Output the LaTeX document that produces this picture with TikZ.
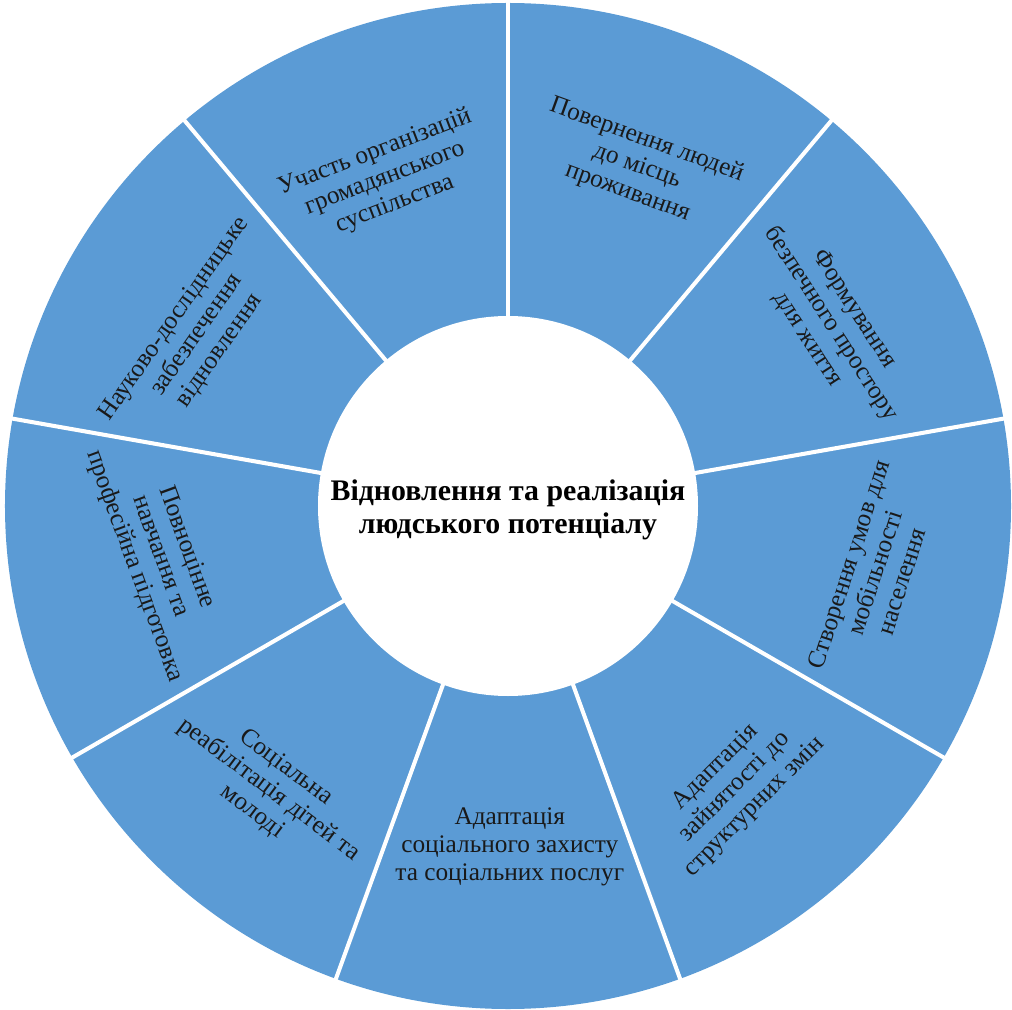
\documentclass[tikz,border=0pt]{standalone}
\usepackage{fontspec}
\setmainfont{Liberation Serif}
\definecolor{ringblue}{HTML}{5B9BD5}

\begin{document}
\begin{tikzpicture}[
    sectortext/.style={align=center, text=black!90, font=\fontsize{14.4}{15.8}\selectfont},
    hubtext/.style={align=center, text=black, font=\fontsize{17}{18.5}\selectfont\bfseries},
    divider/.style={white, line width=2.3pt}
]

    % Radii of the ring
    \def\Rout{10.06}
    \def\Rin{3.8}
    \useasboundingbox (-10.16,-10.06) rectangle (10.08,10.12);

    % Blue ring
    \fill[ringblue] (0,0) circle (\Rout);

    % White gaps between the nine sectors
    \foreach \a in {90,50,...,-230}{
        \draw[divider] (\a:\Rin-0.1) -- (\a:\Rout+0.1);
    }

    % Hub
    \fill[white] (0,0) circle (\Rin);
    \node[hubtext] (hub) at (0,-0.08) {Відновлення та реалізація\\людського потенціалу};

    % Sector labels, upper half
    \node[sectortext, rotate=21 ] (civil)    at (110.6:7.0)  {Участь організацій\\громадянського\\суспільства};
    \node[sectortext, rotate=-20] (return)   at (69.2:7.27)  {Повернення людей\\до місць\\проживання};
    \node[sectortext, rotate=-57] (safe)     at (29.4:7.41)  {Формування\\безпечного простору\\для життя};
    \node[sectortext, rotate=55 ] (research) at (151.2:7.1)  {Науково-дослідницьке\\забезпечення\\відновлення};

    % Sector labels, lower half
    \node[sectortext, rotate=72 ] (mobility) at (-10.3:7.46) {Створення умов для\\мобільності\\населення};
    \node[sectortext, rotate=45 ] (employ)   at (-51.1:7.23) {Адаптація\\зайнятості до\\структурних змін};
    \node[sectortext            ] (welfare)  at (-89.7:6.82) {Адаптація\\соціального захисту\\та соціальних послуг};
    \node[sectortext, rotate=-37] (rehab)    at (-130.1:7.42) {Соціальна\\реабілітація дітей та\\молоді};
    \node[sectortext, rotate=-70] (learning) at (-171.7:7.03) {Повноцінне\\навчання та\\професійна підготовка};

\end{tikzpicture}
\end{document}
